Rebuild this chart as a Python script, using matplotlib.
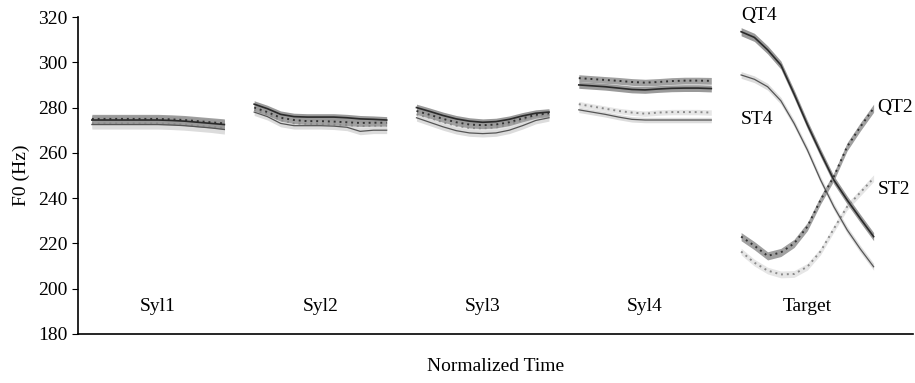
import numpy as np
import matplotlib.pyplot as plt

plt.rcParams['font.family'] = ['Liberation Serif', 'DejaVu Serif']

# segment names and normalised time grid inside each segment
segments = ["Syl1", "Syl2", "Syl3", "Syl4", "Target"]
t = np.linspace(0, 1, 11)

# F0 means (Hz), one row per segment
qt4 = [
    [274.5, 274.5, 274.5, 274.5, 274.5, 274.5, 274.3, 274.0, 273.5, 273.0, 272.5],
    [281.5, 279.5, 277.0, 276.0, 275.8, 275.8, 275.8, 275.5, 275.0, 274.8, 274.5],
    [280.0, 278.3, 276.5, 275.0, 274.0, 273.5, 273.8, 274.8, 276.3, 277.5, 278.0],
    [290.0, 289.6, 289.2, 288.6, 288.0, 287.8, 288.2, 288.5, 288.6, 288.6, 288.4],
    [313.5, 311.0, 305.5, 298.8, 286.0, 272.5, 260.0, 248.0, 239.2, 231.0, 223.0],
]
qt2 = [
    [275.0, 275.0, 275.0, 275.0, 275.0, 275.0, 274.8, 274.5, 274.0, 273.5, 273.0],
    [280.0, 278.0, 275.5, 274.5, 274.0, 274.0, 273.8, 273.5, 273.2, 273.3, 273.3],
    [278.5, 276.8, 275.0, 273.5, 272.5, 272.2, 272.5, 273.5, 275.2, 276.8, 277.5],
    [293.0, 292.6, 292.2, 291.8, 291.3, 291.0, 291.3, 291.7, 291.9, 291.9, 291.8],
    [223.0, 219.0, 214.5, 216.0, 220.0, 227.4, 239.2, 249.5, 262.7, 271.5, 279.7],
]
st4 = [
    [272.5, 272.5, 272.5, 272.5, 272.5, 272.5, 272.3, 272.0, 271.5, 271.0, 270.3],
    [278.0, 276.0, 273.0, 272.0, 272.0, 272.0, 271.8, 271.3, 269.5, 270.0, 270.0],
    [275.5, 273.5, 271.5, 269.8, 268.8, 268.5, 268.8, 270.0, 272.0, 274.3, 275.5],
    [279.0, 278.0, 277.0, 275.8, 274.8, 274.5, 274.5, 274.5, 274.5, 274.5, 274.5],
    [294.4, 292.5, 289.2, 283.0, 273.0, 261.3, 248.0, 236.2, 226.0, 217.5, 209.7],
]
st2 = [
    [273.0, 273.0, 273.0, 273.0, 273.0, 273.0, 272.8, 272.5, 272.0, 271.5, 271.0],
    [279.0, 277.0, 274.5, 273.0, 272.8, 272.6, 272.5, 272.3, 271.8, 272.0, 272.0],
    [277.0, 275.5, 273.5, 272.0, 271.0, 270.8, 271.2, 272.5, 274.5, 276.3, 277.0],
    [281.5, 280.5, 279.5, 278.5, 277.8, 277.3, 277.8, 278.0, 278.0, 278.0, 277.8],
    [216.4, 211.5, 208.0, 206.3, 206.5, 209.7, 216.5, 226.5, 236.2, 242.5, 248.8],
]

# half width of the shaded bands, per segment
qt4_err = [2.0, 1.5, 1.5, 1.5, 1.8]
qt2_err = [2.0, 1.5, 1.5, 1.5, 1.8]
st4_err = [2.0, 1.5, 1.5, 1.2, 1.5]
st2_err = [2.0, 1.5, 1.5, 1.2, 1.5]

# curve labels in the Target segment: (text, rel. time, F0)
curve_labels = [("QT4", 0.0, 320.7), ("ST4", 0.0, 274.7),
                ("QT2", 1.03, 280.0), ("ST2", 1.03, 243.8)]

series = [
    (st2, st2_err, "#e6e6e6", "#8a8a8a", (0, (1, 2)), 1.4),
    (st4, st4_err, "#dcdcdc", "#555555", "-", 0.9),
    (qt2, qt2_err, "#a0a0a0", "#333333", (0, (1, 2)), 1.4),
    (qt4, qt4_err, "#9a9a9a", "#2a2a2a", "-", 1.2),
]

step = 1.225

fig = plt.figure(figsize=(9.15, 3.83), dpi=100)
ax = fig.add_axes([0.0852, 0.128, 0.913, 0.8276])

for k, name in enumerate(segments):
    x = k * step + t
    for vals, err, band, col, ls, lw in series:
        y = np.array(vals[k])
        ax.fill_between(x, y - err[k], y + err[k], color=band, lw=0)
        ax.plot(x, y, color=col, ls=ls, lw=lw)
    ax.text(k * step + 0.5, 192, name, ha="center", va="center", fontsize=14)

tx = 4 * step
for txt, rel, val in curve_labels:
    ax.text(tx + rel, val, txt, ha="left", va="center", fontsize=14)

ax.set_xlim(-0.105, 4 * step + 1.3)
ax.set_ylim(180, 320)
ax.set_yticks(np.arange(180, 321, 20))
ax.set_xticks([])
ax.tick_params(axis="y", labelsize=14, length=4, direction="out")
ax.set_ylabel("F0 (Hz)", fontsize=14, labelpad=6)
ax.set_xlabel("Normalized Time", fontsize=14, labelpad=17)
ax.spines["top"].set_visible(False)
ax.spines["right"].set_visible(False)
ax.spines["left"].set_linewidth(1.2)
ax.spines["bottom"].set_linewidth(1.2)

fig.savefig("out.png", dpi=100)
